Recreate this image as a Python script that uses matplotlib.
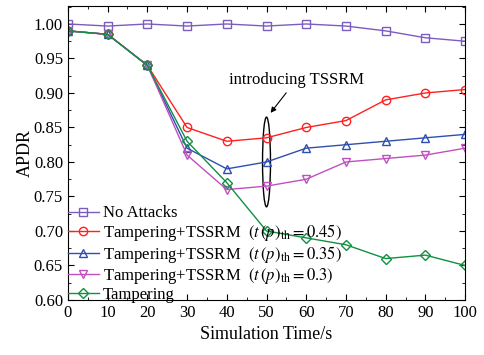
import matplotlib
matplotlib.use("Agg")
import matplotlib.pyplot as plt
from matplotlib.patches import Ellipse
from matplotlib.ticker import MultipleLocator

plt.rcParams['font.family'] = ['Liberation Serif', 'DejaVu Serif']
plt.rcParams['mathtext.fontset'] = 'stix'

time = [0, 10, 20, 30, 40, 50, 60, 70, 80, 90, 100]
no_attacks = [1.0, 0.997, 1.0, 0.997, 1.0, 0.997, 1.0, 0.997, 0.99, 0.98, 0.975]
tssrm_045 = [0.99, 0.985, 0.94, 0.85, 0.83, 0.835, 0.85, 0.86, 0.89, 0.90, 0.905]
tssrm_035 = [0.99, 0.985, 0.94, 0.82, 0.79, 0.80, 0.82, 0.825, 0.83, 0.835, 0.84]
tssrm_03 = [0.99, 0.985, 0.94, 0.81, 0.76, 0.765, 0.775, 0.80, 0.805, 0.81, 0.82]
tampering = [0.99, 0.985, 0.94, 0.83, 0.77, 0.70, 0.69, 0.68, 0.66, 0.665, 0.65]

fig = plt.figure(figsize=(4.85, 3.55), dpi=100)
ax = fig.add_axes([0.140, 0.155, 0.819, 0.828])

mk = dict(markersize=6, markerfacecolor='none', linewidth=1)
ax.plot(time, no_attacks, marker='s', color='#7b5cc0', label='No Attacks', **mk)
ax.plot(time, tssrm_045, marker='o', color='#ff2020',
        label=r'Tampering+TSSRM  $(t\,(p)_{\rm th}=0.45)$', **mk)
ax.plot(time, tssrm_035, marker='^', color='#2f4fb0',
        label=r'Tampering+TSSRM  $(t\,(p)_{\rm th}=0.35)$', **mk)
ax.plot(time, tssrm_03, marker='v', color='#c050c0',
        label=r'Tampering+TSSRM  $(t\,(p)_{\rm th}=0.3)$', **mk)
ax.plot(time, tampering, marker='D', color='#109040', label='Tampering',
        markersize=5.5, markerfacecolor='none', linewidth=1)

# ellipse around the TSSRM lines at t=50
ax.add_patch(Ellipse((50, 0.80), 2.0, 0.13, fill=False, edgecolor='black', linewidth=1))
ax.annotate('introducing TSSRM', xy=(50.6, 0.868), xytext=(57.5, 0.919),
            ha='center', va='center', fontsize=12,
            arrowprops=dict(arrowstyle='-|>', color='black', lw=0.8, mutation_scale=8))

ax.set_xlim(0, 100)
ax.set_ylim(0.6, 1.026)
ax.xaxis.set_major_locator(MultipleLocator(10))
ax.xaxis.set_minor_locator(MultipleLocator(5))
ax.yaxis.set_major_locator(MultipleLocator(0.05))
ax.yaxis.set_minor_locator(MultipleLocator(0.025))
ax.yaxis.set_major_formatter(matplotlib.ticker.FormatStrFormatter('%.2f'))
ax.tick_params(which='both', direction='in', top=True, right=True, labelsize=12)
ax.tick_params(which='major', length=4)
ax.tick_params(which='minor', length=2)

ax.set_xlabel('Simulation Time/s', fontsize=13)
ax.set_ylabel('APDR', fontsize=13, labelpad=0)

ax.legend(loc='lower left', bbox_to_anchor=(-0.005, -0.015), frameon=False,
          fontsize=12, handlelength=1.9, handletextpad=0.2, labelspacing=0.05,
          borderaxespad=0.0, borderpad=0.1)

fig.savefig('out.png', dpi=100)
